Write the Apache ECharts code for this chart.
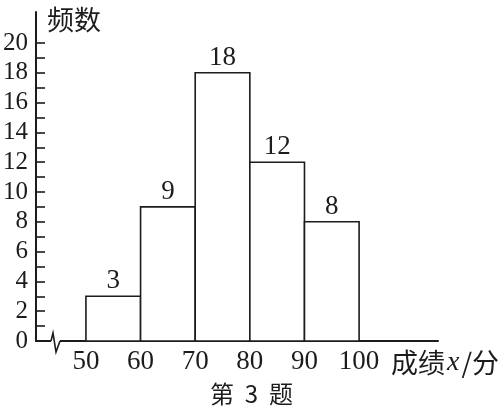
<!DOCTYPE html>
<html>
<head>
<meta charset="utf-8">
<script src="https://cdn.jsdelivr.net/npm/echarts@6/dist/echarts.min.js"></script>
<style>html,body{margin:0;padding:0;background:#fff;}#c{width:503px;height:413px;}</style>
</head>
<body>
<div id="c"></div>
<script>
const binStarts = [50, 60, 70, 80, 90];
const binEnds = [60, 70, 80, 90, 100];
const counts = [3, 9, 18, 12, 8];
const xTickLabels = [50, 60, 70, 80, 90, 100];
const yTickLabels = [0, 2, 4, 6, 8, 10, 12, 14, 16, 18, 20];
const yTicks = [0,1,2,3,4,5,6,7,8,9,10,11,12,13,14,15,16,17,18,19,20];

const ink = '#1c1c1c';
const serif = "'Liberation Serif', 'Times New Roman', serif";
const cjk = "'Noto Sans CJK SC', sans-serif";

const chart = echarts.init(document.getElementById('c'), null, {renderer: 'canvas'});

const data = binStarts.map((s, i) => [s, binEnds[i], counts[i]]);

const option = {
  animation: false,
  backgroundColor: '#fff',
  grid: {left: 35, right: 65, top: 12, bottom: 72, containLabel: false},
  xAxis: {
    type: 'value',
    min: 40.86,
    max: 114.44,
    splitLine: {show: false},
    axisLine: {show: true, lineStyle: {color: ink, width: 2}},
    axisTick: {show: false},
    axisLabel: {
      customValues: xTickLabels,
      margin: 7,
      color: ink,
      fontFamily: serif,
      fontSize: 27
    }
  },
  yAxis: {
    type: 'value',
    min: 0,
    max: 22.08,
    splitLine: {show: false},
    axisLine: {show: true, lineStyle: {color: ink, width: 2}},
    axisTick: {
      show: true,
      inside: true,
      length: 9,
      customValues: yTicks,
      lineStyle: {color: ink, width: 1.6}
    },
    axisLabel: {
      customValues: yTickLabels,
      margin: 8,
      color: ink,
      fontFamily: serif,
      fontSize: 25
    }
  },
  series: [{
    type: 'custom',
    data: data,
    encode: {x: [0, 1], y: 2},
    renderItem: function (params, api) {
      const p0 = api.coord([api.value(0), api.value(2)]);
      const p1 = api.coord([api.value(1), 0]);
      return {
        type: 'rect',
        shape: {x: p0[0], y: p0[1], width: p1[0] - p0[0], height: p1[1] - p0[1]},
        style: {fill: '#fff', stroke: ink, lineWidth: 1.6},
        textContent: {
          style: {
            text: String(api.value(2)),
            fill: ink,
            font: "27px " + serif
          }
        },
        textConfig: {position: 'top', distance: 1}
      };
    }
  }],
  graphic: []
};

chart.setOption(option);

// axis break decoration and texts
const origin = chart.convertToPixel({gridIndex: 0}, [40.86, 0]);
const x0 = origin[0], y0 = origin[1];
chart.setOption({
  graphic: [
    {
      type: 'rect',
      shape: {x: x0 + 15, y: y0 - 3, width: 9, height: 6},
      style: {fill: '#fff'},
      z: 100
    },
    {
      type: 'polyline',
      shape: {points: [[x0 + 15, y0], [x0 + 17, y0 - 8], [x0 + 20, y0 + 11], [x0 + 24, y0]]},
      style: {stroke: ink, lineWidth: 1.6, fill: null},
      z: 101
    },
    {
      type: 'text',
      left: 47, top: 6,
      style: {text: '频数', font: "27px " + cjk, fill: ink},
      z: 101
    },
    {
      type: 'text',
      left: 391, top: 349,
      style: {
        text: '{c|成绩}{x|x}{c|/分}',
        rich: {
          c: {font: "27px " + cjk, fill: ink},
          x: {font: "italic 28px " + serif, fill: ink, padding: [0, 2, 0, 2]}
        }
      },
      z: 101
    },
    {
      type: 'text',
      left: 'center', top: 382,
      style: {text: '第  3  题', font: "24px " + cjk, fill: ink},
      z: 101
    }
  ]
});
</script>
</body>
</html>
